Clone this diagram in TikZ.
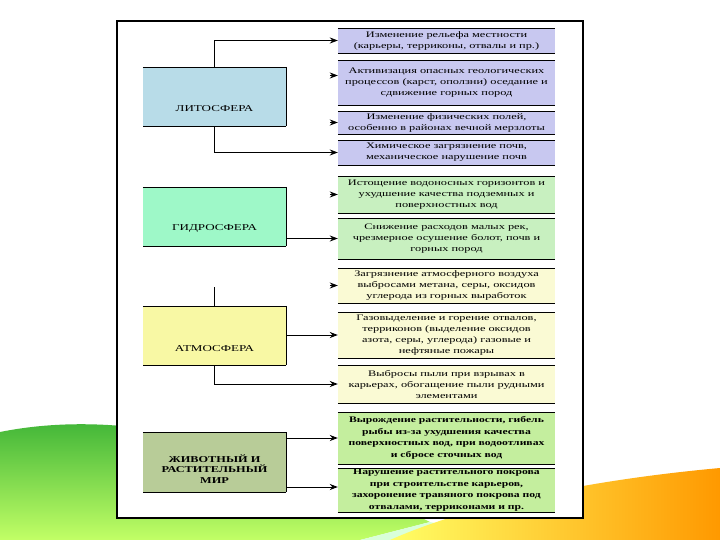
\documentclass[tikz,border=0pt]{standalone}
\usepackage{fontspec}
\setmainfont{Liberation Serif}
\newfontfamily\boxfont[FakeStretch=1.45]{Liberation Serif}
\newfontfamily\boxboldfont[FakeStretch=1.37]{Liberation Serif}
\usetikzlibrary{arrows.meta}

\definecolor{litocol}{HTML}{B8DCE8}
\definecolor{hydrocol}{HTML}{9EF8C8}
\definecolor{atmocol}{HTML}{F8F8A4}
\definecolor{biocol}{HTML}{B8CC98}
\definecolor{lilac}{HTML}{C8C8F0}
\definecolor{palegreen}{HTML}{C8F0C0}
\definecolor{paleyellow}{HTML}{FAFAD4}
\definecolor{leafgreen}{HTML}{C4EE9E}

\begin{document}
\begin{tikzpicture}[x=1pt,y=-1pt,
    effect/.style={minimum width=217pt, inner sep=0pt, align=center,
        font=\boxfont\fontsize{8.5}{11}\selectfont,
        append after command={(\tikzlastnode.north west) edge (\tikzlastnode.north east)
            (\tikzlastnode.south west) edge (\tikzlastnode.south east)}},
    boldeffect/.style={effect, font=\boxboldfont\bfseries\fontsize{8.5}{11.5}\selectfont},
    sphere/.style 2 args={minimum width=143pt, minimum height=59pt, inner sep=0pt,
        append after command={(\tikzlastnode.north west) edge (\tikzlastnode.north east)
            (\tikzlastnode.north east) edge (\tikzlastnode.south east)
            (\tikzlastnode.south east) edge (\tikzlastnode.south west)},
        label={[yshift=#2, align=center, font=\boxfont\fontsize{9}{10.5}\selectfont]center:#1}},
    arr/.style={-{Stealth[length=8pt,width=6pt]}, line width=0.8pt}]

    \useasboundingbox (0,0) rectangle (720,540);
    \fill[white] (0,0) rectangle (720,540);

    % background swooshes
    \shade[top color=green!60!black!80, bottom color=green!40!yellow!60]
        (0,432) .. controls (120,408) and (260,440) .. (430,522) -- (360,540) -- (0,540) -- cycle;
    \fill[green!15!white] (430,522) .. controls (470,530) and (480,535) .. (500,540) -- (360,540) -- cycle;
    \shade[left color=yellow!60!white, right color=orange!80!yellow]
        (720,468) .. controls (610,478) and (480,500) .. (390,540) -- (720,540) -- cycle;

    % frame
    \draw[line width=1.2pt, fill=white] (117,21) rectangle (583,518);

    % spheres
    \node (lito) [sphere={ЛИТОСФЕРА}{-12pt}, fill=litocol] at (214.5,96.5) {};
    \node (hydro) [sphere={ГИДРОСФЕРА}{-12pt}, fill=hydrocol] at (214.5,216.5) {};
    \node (atmo) [sphere={АТМОСФЕРА}{-13pt}, fill=atmocol] at (214.5,335.5) {};
    \node (bio) [sphere={\boxboldfont\bfseries ЖИВОТНЫЙ И\\ \boxboldfont\bfseries РАСТИТЕЛЬНЫЙ\\ \boxboldfont\bfseries МИР}{-7pt}, fill=biocol] at (214.5,462) {};

    % effects
    \node (b1) [effect, fill=lilac, minimum height=25pt] at (446.5,40.5)
        {Изменение рельефа местности\\ (карьеры, терриконы, отвалы и пр.)};
    \node (b2) [effect, fill=lilac, minimum height=45pt] at (446.5,82.5)
        {Активизация опасных геологических\\ процессов (карст, оползни) оседание и\\ сдвижение горных пород};
    \node (b3) [effect, fill=lilac, minimum height=23pt] at (446.5,122.5)
        {Изменение физических полей,\\ особенно в районах вечной мерзлоты};
    \node (b4) [effect, fill=lilac, minimum height=25pt] at (446.5,152.5)
        {Химическое загрязнение почв,\\ механическое нарушение почв};
    \node (b5) [effect, fill=palegreen, minimum height=37pt] at (446.5,194.5)
        {Истощение водоносных горизонтов и\\ ухудшение качества подземных и\\ поверхностных вод};
    \node (b6) [effect, fill=palegreen, minimum height=41pt] at (446.5,238.5)
        {Снижение расходов малых рек,\\ чрезмерное осушение болот, почв и\\ горных пород};
    \node (b7) [effect, fill=paleyellow, minimum height=35pt] at (446.5,285.5)
        {Загрязнение атмосферного воздуха\\ выбросами метана, серы, оксидов\\ углерода из горных выработок};
    \node (b8) [effect, fill=paleyellow, minimum height=46pt] at (446.5,335)
        {Газовыделение и горение отвалов,\\ терриконов (выделение оксидов\\ азота, серы, углерода) газовые и\\ нефтяные пожары};
    \node (b9) [effect, fill=paleyellow, minimum height=38pt] at (446.5,384)
        {Выбросы пыли при взрывах в\\ карьерах, обогащение пыли рудными\\ элементами};
    \node (b10) [boldeffect, fill=leafgreen, minimum height=52pt] at (446.5,438)
        {Вырождение растительности, гибель\\ рыбы из-за ухудшения качества\\ поверхностных вод, при водоотливах\\ и сбросе сточных вод};
    \node (b11) [boldeffect, fill=leafgreen, minimum height=44pt] at (446.5,490)
        {Нарушение растительного покрова\\ при строительстве карьеров,\\ захоронение травяного покрова под\\ отвалами, терриконами и пр.};

    % connectors
    \draw[arr] (lito.north) |- (b1.west);
    \draw[arr] (lito.south) |- (b4.west);
    \draw[arr] (hydro.east |- b6.west) -- (b6.west);
    \draw[arr] (atmo.east |- b8.west) -- (b8.west);
    \draw[arr] (atmo.south) |- (b9.west);
    \draw[arr] (bio.east |- b10.west) -- (b10.west);
    \coordinate (t11) at ([yshift=3pt]b11.west);
    \draw[arr] (bio.east |- t11) -- (t11);
    \coordinate (stub) at ([yshift=19pt]atmo.north);
    \draw[line width=0.8pt] (atmo.north) -- (stub);

    % arrowheads with no line
    \coordinate (t2) at ([yshift=7pt]b2.west);
    \foreach \t in {t2,b3.west,b5.west,b7.west}
        \draw[arr] ([xshift=-8pt]\t) -- (\t);

\end{tikzpicture}
\end{document}
